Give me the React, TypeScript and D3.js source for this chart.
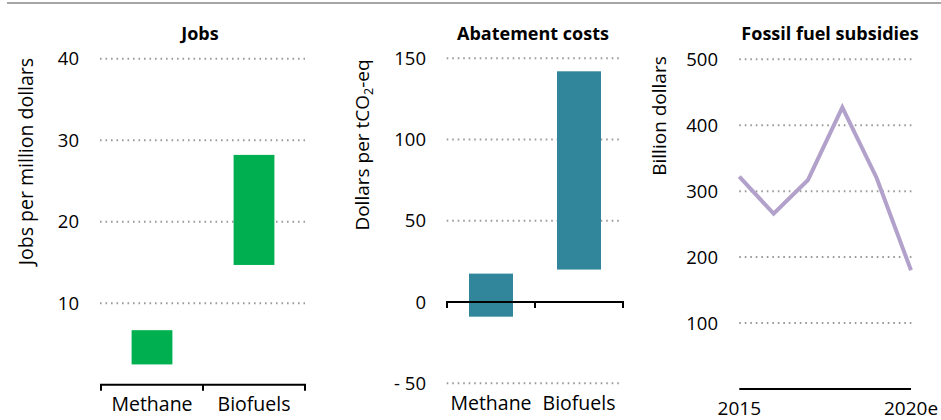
import React from "react";
import * as d3 from "d3";

const categories = ["Methane", "Biofuels"];
const jobsLow = [2.5, 14.7];
const jobsHigh = [6.7, 28.2];
const jobsTicks = [10, 20, 30, 40];

const costLow = [-9, 20];
const costHigh = [17.5, 142];
const costTicks = [-50, 50, 100, 150];

const years = ["2015", "2016", "2017", "2018", "2019", "2020e"];
const subsidies = [322, 266, 317, 427, 320, 180];
const subsidyTicks = [100, 200, 300, 400, 500];
const yearLabels = ["2015", "2020e"];

const FONT = "'Open Sans', sans-serif";
const GREEN = "#00B050";
const TEAL = "#31869B";
const LAVENDER = "#B2A2CB";
const GRID = "#9a9a9a";

const fmtCost = (v: number) => (v < 0 ? "- " + Math.abs(v) : String(v));

function Grid({ y, x0, x1 }: { y: number; x0: number; x1: number }) {
  return (
    <line x1={x0} x2={x1} y1={y} y2={y} stroke={GRID} strokeWidth={2} strokeDasharray="1.6 3.9" />
  );
}

export default function App() {
  // Panel 1: Jobs
  const x1 = d3.scaleBand<string>().domain(categories).range([101, 305]).paddingInner(0.6).paddingOuter(0.3);
  const y1 = d3.scaleLinear().domain([0, 40]).range([384.8, 58.7]);
  const band1 = d3.scaleBand<string>().domain(categories).range([101, 305]);

  // Panel 2: Abatement costs
  const x2 = d3.scaleBand<string>().domain(categories).range([447, 623]).paddingInner(0.5).paddingOuter(0.25);
  const y2 = d3.scaleLinear().domain([-50, 150]).range([383.3, 58.3]);
  const band2 = d3.scaleBand<string>().domain(categories).range([447, 623]);

  // Panel 3: Fossil fuel subsidies
  const x3 = d3.scalePoint<string>().domain(years).range([739.3, 911]);
  const y3 = d3.scaleLinear().domain([0, 500]).range([389, 59.3]);
  const line = d3
    .line<number>()
    .x((_, i) => x3(years[i]) as number)
    .y((d) => y3(d));

  return (
    <svg
      width={941}
      height={420}
      style={{ position: "absolute", left: 0, top: 0, background: "#fff" }}
      fontFamily={FONT}
    >
      <line x1={7} x2={941} y1={3} y2={3} stroke="#a6a6a6" strokeWidth={2} />

      {/* Panel 1 */}
      <text x={200} y={40} textAnchor="middle" fontWeight="bold" fontSize={18} fill="#000">
        Jobs
      </text>
      {jobsTicks.map((t) => (
        <g key={t}>
          <Grid y={y1(t)} x0={100} x1={305} />
          <text x={79} y={y1(t)} dy="0.36em" textAnchor="end" fontSize={18.5} fill="#000">
            {t}
          </text>
        </g>
      ))}
      {categories.map((c, i) => (
        <rect
          key={c}
          x={x1(c)}
          width={x1.bandwidth()}
          y={y1(jobsHigh[i])}
          height={y1(jobsLow[i]) - y1(jobsHigh[i])}
          fill={GREEN}
        />
      ))}
      <path
        d={`M${band1.range()[0]},${y1(0) + 6}V${y1(0)}H${band1.range()[1]}V${y1(0) + 6}M${
          (band1(categories[1]) as number)
        },${y1(0)}V${y1(0) + 6}`}
        fill="none"
        stroke="#000"
        strokeWidth={2}
      />
      {categories.map((c) => (
        <text
          key={c}
          x={(band1(c) as number) + band1.bandwidth() / 2}
          y={411}
          textAnchor="middle"
          fontSize={19.5}
          fill="#000"
        >
          {c}
        </text>
      ))}
      <text
        transform={`translate(33,161.5) rotate(-90)`}
        textAnchor="middle"
        fontSize={19.5}
        fill="#000"
      >
        Jobs per million dollars
      </text>

      {/* Panel 2 */}
      <text x={533} y={40} textAnchor="middle" fontWeight="bold" fontSize={18} fill="#000">
        Abatement costs
      </text>
      {costTicks.map((t) => (
        <g key={t}>
          <Grid y={y2(t)} x0={446.7} x1={619} />
        </g>
      ))}
      {[...costTicks, 0].map((t) => (
        <text key={"l" + t} x={426} y={y2(t)} dy="0.36em" textAnchor="end" fontSize={18.5} fill="#000">
          {fmtCost(t)}
        </text>
      ))}
      {categories.map((c, i) => (
        <rect
          key={c}
          x={x2(c)}
          width={x2.bandwidth()}
          y={y2(costHigh[i])}
          height={y2(costLow[i]) - y2(costHigh[i])}
          fill={TEAL}
        />
      ))}
      <path
        d={`M${band2.range()[0]},${y2(0) + 6}V${y2(0)}H${band2.range()[1]}V${y2(0) + 6}M${
          (band2(categories[1]) as number)
        },${y2(0)}V${y2(0) + 6}`}
        fill="none"
        stroke="#000"
        strokeWidth={2}
      />
      {categories.map((c) => (
        <text
          key={c}
          x={(band2(c) as number) + band2.bandwidth() / 2}
          y={410}
          textAnchor="middle"
          fontSize={19.5}
          fill="#000"
        >
          {c}
        </text>
      ))}
      <text
        transform={`translate(369,145) rotate(-90)`}
        textAnchor="middle"
        fontSize={19}
        fill="#000"
      >
        Dollars per tCO
        <tspan fontSize={12.5} dy={4}>2</tspan>
        <tspan dy={-4}>-eq</tspan>
      </text>

      {/* Panel 3 */}
      <text x={830} y={40} textAnchor="middle" fontWeight="bold" fontSize={18} fill="#000">
        Fossil fuel subsidies
      </text>
      {subsidyTicks.map((t) => (
        <g key={t}>
          <Grid y={y3(t)} x0={739.3} x1={912} />
          <text x={718} y={y3(t)} dy="0.36em" textAnchor="end" fontSize={18.5} fill="#000">
            {t}
          </text>
        </g>
      ))}
      <line x1={739.3} x2={911} y1={y3(0)} y2={y3(0)} stroke="#000" strokeWidth={2} />
      <path d={line(subsidies) || ""} fill="none" stroke={LAVENDER} strokeWidth={4} strokeLinejoin="miter" />
      {yearLabels.map((yl) => (
        <text key={yl} x={x3(yl)} y={415} textAnchor="middle" fontSize={19} fill="#000">
          {yl}
        </text>
      ))}
      <text
        transform={`translate(666,116) rotate(-90)`}
        textAnchor="middle"
        fontSize={19}
        fill="#000"
      >
        Billion dollars
      </text>
    </svg>
  );
}
